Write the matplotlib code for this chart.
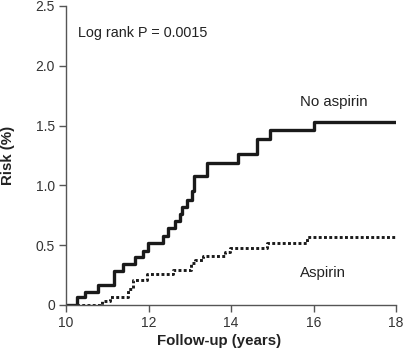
import numpy as np
import matplotlib
matplotlib.use("Agg")
import matplotlib.pyplot as plt

plt.rcParams['font.family'] = ['Liberation Sans', 'DejaVu Sans']

# step data (years, risk %)
no_asp_t = [10.0, 10.27, 10.46, 10.78, 11.15, 11.37, 11.67, 11.86, 11.98, 12.36,
            12.46, 12.64, 12.75, 12.82, 12.94, 13.05, 13.10, 13.41, 14.16, 14.62,
            14.93, 16.02, 17.98]
no_asp_r = [0.0, 0.065, 0.11, 0.17, 0.28, 0.34, 0.40, 0.455, 0.515, 0.576,
            0.64, 0.70, 0.76, 0.82, 0.88, 0.95, 1.08, 1.19, 1.26, 1.39,
            1.46, 1.53, 1.53]

asp_t = [10.0, 10.86, 11.07, 11.51, 11.62, 11.96, 12.58, 13.03, 13.13, 13.33,
         13.85, 13.98, 14.87, 15.84, 17.98]
asp_r = [0.0, 0.035, 0.07, 0.13, 0.205, 0.255, 0.29, 0.35, 0.38, 0.41,
         0.44, 0.48, 0.52, 0.565, 0.565]

fig = plt.figure(figsize=(4.08, 3.48), dpi=100)
ax = fig.add_axes([0.162, 0.1236, 0.809, 0.8594])

ax.step(no_asp_t, no_asp_r, where='post', color='#1a1a1a', lw=2.4)
ax.step(asp_t, asp_r, where='post', color='#1a1a1a', lw=2.1,
        linestyle=(0, (1.0, 0.8)))

ax.set_xlim(10, 18)
ax.set_ylim(0, 2.5)
ax.set_xticks([10, 12, 14, 16, 18])
ax.set_yticks([0, 0.5, 1.0, 1.5, 2.0, 2.5])
ax.set_yticklabels(['0', '0.5', '1.0', '1.5', '2.0', '2.5'])

for s in ['top', 'right']:
    ax.spines[s].set_visible(False)
for s in ['left', 'bottom']:
    ax.spines[s].set_color('#555555')
    ax.spines[s].set_linewidth(1.0)
ax.tick_params(colors='#555555', labelcolor='#333333', labelsize=10,
               length=5, width=1.0, pad=3)

ax.set_xlabel('Follow-up (years)', fontsize=10.8, fontweight='bold', color='#222222')
ax.set_ylabel('Risk (%)', fontsize=10.8, fontweight='bold', color='#222222')
ax.xaxis.set_label_coords(0.464, -0.098)
ax.yaxis.set_label_coords(-0.155, 0.5)

ax.text(10.29, 2.27, 'Log rank P = 0.0015', fontsize=10.4, va='center', color='#222222')
ax.text(16.5, 1.70, 'No aspirin', fontsize=10.8, ha='center', va='center', color='#222222')
ax.text(16.23, 0.27, 'Aspirin', fontsize=10.8, ha='center', va='center', color='#222222')

fig.savefig('out.png', dpi=100)
